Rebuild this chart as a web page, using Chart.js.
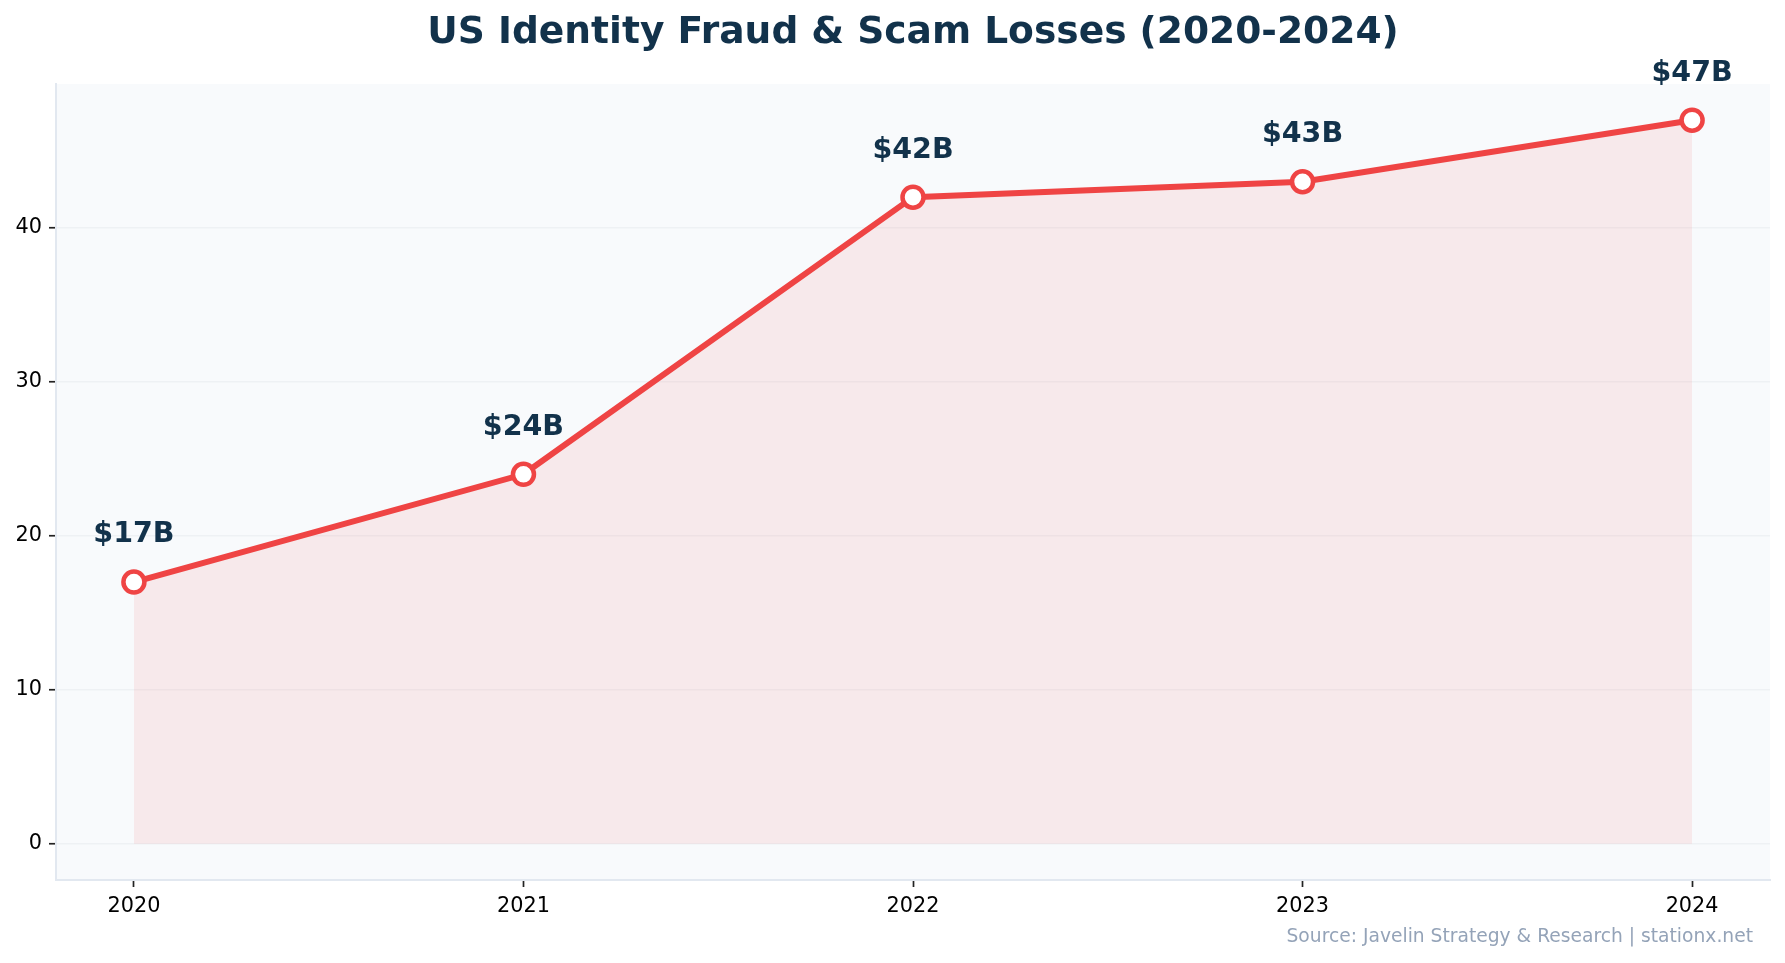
<!DOCTYPE html>
<html>
<head>
<meta charset="utf-8">
<script src="https://cdn.jsdelivr.net/npm/chart.js@4"></script>
<style>
  html, body { margin: 0; padding: 0; background: #ffffff; }
  #wrap { width: 1785px; height: 963px; }
</style>
</head>
<body>
<div id="wrap"><canvas id="lossChart" width="1785" height="963"></canvas></div>
<script>
// values (billions of USD)
const years = ['2020', '2021', '2022', '2023', '2024'];
const losses = [17, 24, 42, 43, 47];
const pointLabels = ['$17B', '$24B', '$42B', '$43B', '$47B'];
const yTicks = [0, 10, 20, 30, 40];

const chartTitle = 'US Identity Fraud & Scam Losses (2020-2024)';
const navy = '#12324b';
const red = '#ef4444';

// plot background, like an axes facecolor
const plotBg = {
    id: 'plotBg',
    beforeDraw(chart) {
        const a = chart.chartArea;
        const ctx = chart.ctx;
        ctx.save();
        ctx.fillStyle = '#f8fafc';
        ctx.fillRect(a.left, a.top, a.right - a.left, a.bottom - a.top);
        ctx.restore();
    }
};

// title centred over the plot area, not the canvas
const plotTitle = {
    id: 'plotTitle',
    afterDraw(chart) {
        const a = chart.chartArea;
        const ctx = chart.ctx;
        ctx.save();
        ctx.font = 'bold 37.6px "DejaVu Sans"';
        ctx.fillStyle = navy;
        ctx.textAlign = 'center';
        ctx.textBaseline = 'alphabetic';
        ctx.fillText(chartTitle, (a.left + a.right) / 2, 42.7);
        ctx.restore();
    }
};

// "$17B" etc above every point
const valueLabels = {
    id: 'valueLabels',
    afterDatasetsDraw(chart) {
        const ctx = chart.ctx;
        const meta = chart.getDatasetMeta(0);
        ctx.save();
        ctx.font = 'bold 28.5px "DejaVu Sans"';
        ctx.fillStyle = navy;
        ctx.textAlign = 'center';
        ctx.textBaseline = 'middle';
        meta.data.forEach(function (pt, i) {
            ctx.fillText(pointLabels[i], pt.x, pt.y - 47);
        });
        ctx.restore();
    }
};

// source note bottom right
const sourceNote = {
    id: 'sourceNote',
    afterDraw(chart) {
        const ctx = chart.ctx;
        ctx.save();
        ctx.font = '18.7px "DejaVu Sans"';
        ctx.fillStyle = '#94a3b8';
        ctx.textAlign = 'right';
        ctx.textBaseline = 'middle';
        ctx.fillText('Source: Javelin Strategy & Research | stationx.net', 1753, 937);
        ctx.restore();
    }
};

const ctx = document.getElementById('lossChart').getContext('2d');
window.lossChart = new Chart(ctx, {
    type: 'line',
    data: {
        datasets: [{
            data: losses.map(function (v, i) { return { x: i, y: v }; }),
            borderColor: red,
            borderWidth: 6,
            backgroundColor: 'rgba(239, 68, 68, 0.09)',
            fill: 'origin',
            tension: 0,
            pointRadius: 10.5,
            pointBorderWidth: 4.5,
            pointBackgroundColor: '#ffffff',
            pointBorderColor: red,
            pointHoverRadius: 10.5
        }]
    },
    plugins: [plotBg, plotTitle, valueLabels, sourceNote],
    options: {
        responsive: false,
        animation: false,
        devicePixelRatio: 1,
        layout: { padding: { left: 0, right: 15, top: 84, bottom: 0 } },
        plugins: {
            legend: { display: false },
            tooltip: { enabled: false },
            title: { display: false }
        },
        scales: {
            x: {
                type: 'linear',
                min: -0.2,
                max: 4.2,
                afterBuildTicks: function (scale) {
                    scale.ticks = years.map(function (_, i) { return { value: i }; });
                },
                afterFit: function (scale) { scale.height = 83; },
                ticks: {
                    color: '#000000',
                    font: { family: 'DejaVu Sans', size: 20.8 },
                    padding: 7,
                    maxRotation: 0,
                    callback: function (v) { return years[v]; }
                },
                grid: {
                    display: true,
                    drawOnChartArea: false,
                    drawTicks: true,
                    tickLength: 7,
                    tickColor: '#222222',
                    tickWidth: 1.7
                },
                border: { display: true, color: '#e2e8f0', width: 2 }
            },
            y: {
                min: -2.35,
                max: 49.35,
                afterBuildTicks: function (scale) {
                    scale.ticks = yTicks.map(function (v) { return { value: v }; });
                },
                afterFit: function (scale) { scale.width = 56; },
                ticks: {
                    color: '#000000',
                    font: { family: 'DejaVu Sans', size: 20.8 },
                    padding: 7
                },
                grid: {
                    color: '#eef1f4',
                    lineWidth: 1.5,
                    drawTicks: true,
                    tickLength: 7,
                    tickColor: '#222222',
                    tickWidth: 1.7
                },
                border: { display: true, color: '#e2e8f0', width: 2 }
            }
        }
    }
});
</script>
</body>
</html>
